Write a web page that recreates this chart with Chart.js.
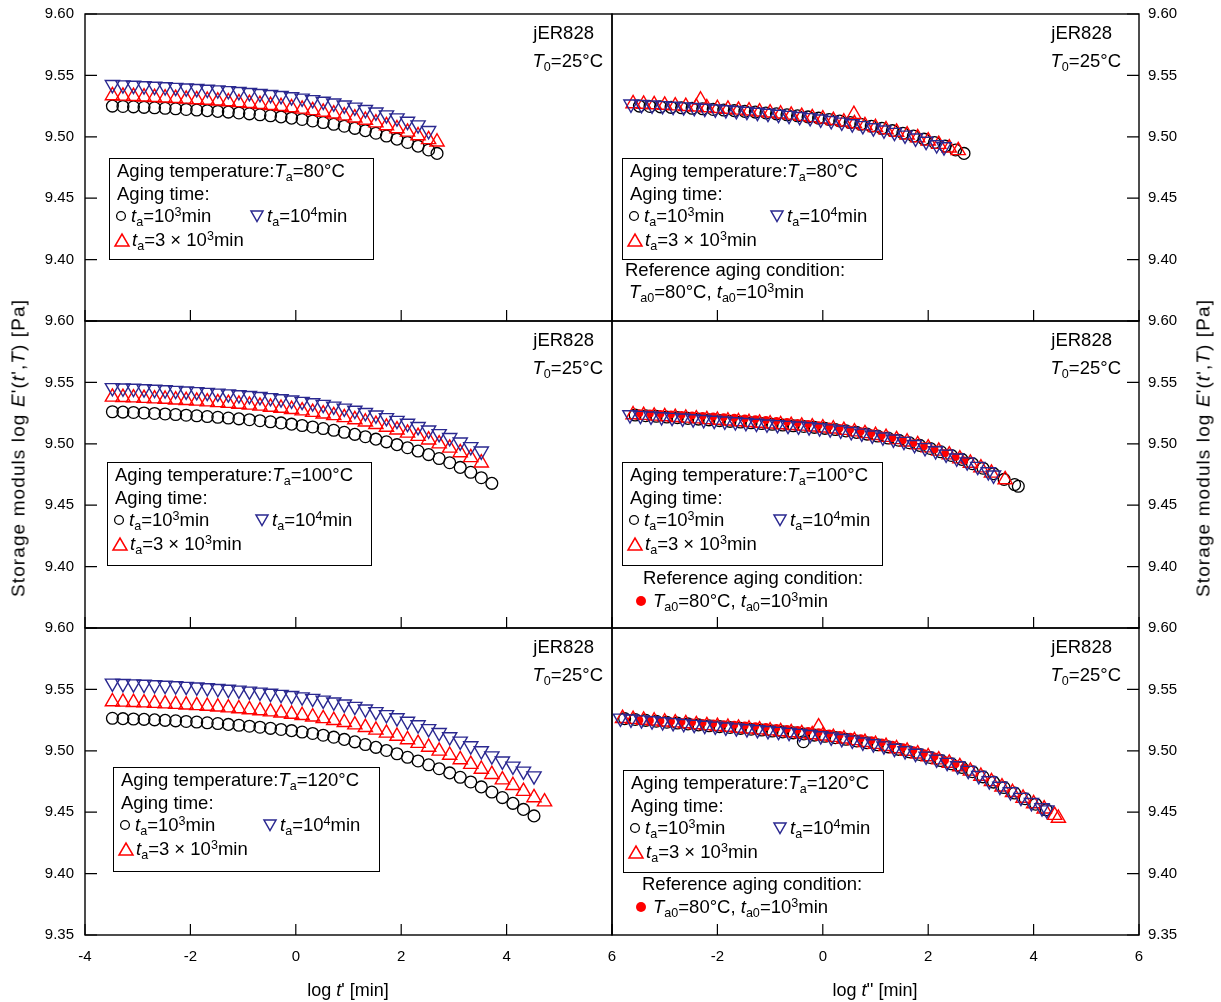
<!DOCTYPE html>
<html><head><meta charset="utf-8">
<script src="https://cdn.jsdelivr.net/npm/chart.js"></script>
<style>
html,body{margin:0;padding:0;background:#fff;}
#wrap{position:relative;width:1221px;height:1002px;overflow:hidden;font-family:'Liberation Sans',Arial,sans-serif;color:#000;}
canvas{position:absolute;left:0;}
.t{position:absolute;white-space:nowrap;line-height:1;font-size:18.5px;transform:translateY(-50%);}
.r{transform:translate(-100%,-50%);}
.box{position:absolute;border:1.3px solid #000;box-sizing:border-box;}
.ttl{position:absolute;white-space:nowrap;line-height:1;font-size:18px;}
sub,sup{font-size:0.68em;line-height:0;position:relative;vertical-align:baseline;}
sub{top:0.32em;} sup{top:-0.5em;}
svg.s{position:absolute;overflow:visible;}
</style>
</head><body>
<div id="wrap"></div>
<script>
// ---------- tick labels ----------
const X_TICKS = [-4, -2, 0, 2, 4, 6];
const Y_TICKS = [9.35, 9.40, 9.45, 9.50, 9.55, 9.60];

// ---------- reference curve (T_a0=80°C, t_a0=10^3 min) ----------
const REF_X = [-3.48,-3.28,-3.08,-2.88,-2.68,-2.48,-2.28,-2.08,-1.88,-1.68,-1.48,-1.28,-1.08,-0.88,-0.68,-0.48,-0.28,-0.08,0.12,0.32,0.52,0.72,0.92,1.12,1.32,1.52,1.72,1.92,2.12,2.32,2.52,2.68];
const REF_Y = [9.5250,9.5247,9.5244,9.5240,9.5236,9.5232,9.5228,9.5223,9.5218,9.5213,9.5207,9.5201,9.5194,9.5187,9.5179,9.5171,9.5162,9.5152,9.5141,9.5129,9.5116,9.5102,9.5086,9.5069,9.5050,9.5029,9.5006,9.4981,9.4954,9.4924,9.4893,9.4865];

// ---------- top-left (Ta=80°C), x = REF_X ----------
const TL_RED_Y  = [9.5335,9.5332,9.5329,9.5325,9.5321,9.5317,9.5313,9.5308,9.5303,9.5298,9.5292,9.5286,9.5279,9.5272,9.5264,9.5256,9.5247,9.5237,9.5226,9.5214,9.5201,9.5187,9.5171,9.5154,9.5135,9.5114,9.5091,9.5066,9.5039,9.5009,9.4978,9.4958];
const TL_BLUE_Y = [9.5425,9.5422,9.5419,9.5415,9.5411,9.5407,9.5402,9.5397,9.5392,9.5387,9.5381,9.5375,9.5368,9.5360,9.5352,9.5344,9.5335,9.5325,9.5314,9.5302,9.5289,9.5274,9.5258,9.5241,9.5222,9.5201,9.5178,9.5153,9.5126,9.5096,9.5050];

// ---------- top-right (shifted, Ta=80°C) ----------
const TR_BLUE_X = [-3.64,-3.44,-3.24,-3.04,-2.84,-2.64,-2.44,-2.24,-2.04,-1.84,-1.64,-1.44,-1.24,-1.04,-0.84,-0.64,-0.44,-0.24,-0.04,0.16,0.36,0.56,0.76,0.96,1.16,1.36,1.56,1.76,1.96,2.16,2.30];
const TR_BLUE_Y = [9.5266,9.5262,9.5258,9.5253,9.5248,9.5243,9.5238,9.5232,9.5226,9.5220,9.5213,9.5206,9.5199,9.5191,9.5183,9.5174,9.5165,9.5155,9.5144,9.5132,9.5119,9.5105,9.5090,9.5073,9.5055,9.5035,9.5013,9.4989,9.4963,9.4935,9.4918];
const TR_RED_X  = [-3.60,-3.40,-3.20,-3.00,-2.80,-2.60,-2.40,-2.32,-2.20,-2.00,-1.80,-1.60,-1.40,-1.20,-1.00,-0.80,-0.60,-0.40,-0.20,0.00,0.20,0.40,0.59,0.60,0.80,1.00,1.20,1.40,1.60,1.80,2.00,2.20,2.40,2.57];
const TR_RED_Y  = [9.5270,9.5266,9.5262,9.5258,9.5253,9.5248,9.5243,9.5300,9.5237,9.5231,9.5225,9.5218,9.5211,9.5203,9.5195,9.5186,9.5177,9.5167,9.5157,9.5146,9.5134,9.5121,9.5183,9.5107,9.5092,9.5076,9.5058,9.5038,9.5016,9.4993,9.4967,9.4939,9.4910,9.4888];

// ---------- middle-left (Ta=100°C) ----------
const ML_X = [-3.48,-3.28,-3.08,-2.88,-2.68,-2.48,-2.28,-2.08,-1.88,-1.68,-1.48,-1.28,-1.08,-0.88,-0.68,-0.48,-0.28,-0.08,0.12,0.32,0.52,0.72,0.92,1.12,1.32,1.52,1.72,1.92,2.12,2.32,2.52,2.72,2.92,3.12,3.32,3.52,3.72];
const ML_BLACK_Y = [9.5261,9.5258,9.5255,9.5251,9.5247,9.5243,9.5238,9.5233,9.5228,9.5222,9.5216,9.5210,9.5203,9.5196,9.5188,9.5179,9.5170,9.5160,9.5149,9.5137,9.5124,9.5110,9.5094,9.5077,9.5058,9.5038,9.5016,9.4993,9.4968,9.4941,9.4912,9.4880,9.4846,9.4808,9.4768,9.4724,9.4678];
const ML_RED_Y   = [9.5381,9.5378,9.5375,9.5371,9.5367,9.5363,9.5358,9.5353,9.5348,9.5342,9.5336,9.5330,9.5323,9.5316,9.5308,9.5299,9.5290,9.5280,9.5269,9.5257,9.5244,9.5230,9.5214,9.5197,9.5178,9.5158,9.5136,9.5113,9.5088,9.5061,9.5032,9.5000,9.4966,9.4928,9.4888,9.4845];
const ML_BLUE_Y  = [9.5457,9.5454,9.5451,9.5447,9.5443,9.5439,9.5434,9.5429,9.5424,9.5418,9.5412,9.5406,9.5399,9.5392,9.5384,9.5375,9.5366,9.5356,9.5345,9.5333,9.5320,9.5306,9.5290,9.5273,9.5254,9.5234,9.5212,9.5190,9.5166,9.5140,9.5112,9.5082,9.5050,9.5014,9.4976,9.4940];

// ---------- middle-right (shifted, Ta=100°C) ----------
const MR_BLACK_X = [-3.56,-3.36,-3.16,-2.96,-2.76,-2.56,-2.36,-2.16,-1.96,-1.76,-1.56,-1.36,-1.16,-0.96,-0.76,-0.56,-0.36,-0.16,0.04,0.24,0.44,0.64,0.84,1.04,1.24,1.44,1.64,1.84,2.04,2.24,2.44,2.64,2.84,3.04,3.24,3.44,3.64,3.71];
const MR_BLACK_Y = [9.5234,9.5229,9.5224,9.5218,9.5213,9.5207,9.5201,9.5195,9.5189,9.5183,9.5177,9.5171,9.5165,9.5159,9.5153,9.5147,9.5141,9.5134,9.5126,9.5116,9.5105,9.5093,9.5079,9.5063,9.5047,9.5029,9.5009,9.4987,9.4962,9.4935,9.4905,9.4873,9.4838,9.4801,9.4757,9.4710,9.4668,9.4654];
const MR_RED_X   = [-3.60,-3.40,-3.20,-3.00,-2.80,-2.60,-2.40,-2.20,-2.00,-1.80,-1.60,-1.40,-1.20,-1.00,-0.80,-0.60,-0.40,-0.20,0.00,0.20,0.40,0.60,0.80,1.00,1.20,1.40,1.60,1.80,2.00,2.20,2.40,2.60,2.80,3.00,3.20,3.46];
const MR_RED_Y   = [9.5237,9.5232,9.5226,9.5221,9.5215,9.5210,9.5204,9.5198,9.5192,9.5186,9.5180,9.5174,9.5168,9.5162,9.5156,9.5150,9.5145,9.5138,9.5130,9.5121,9.5110,9.5098,9.5084,9.5069,9.5053,9.5035,9.5015,9.4993,9.4968,9.4941,9.4911,9.4878,9.4843,9.4805,9.4762,9.4708];
const MR_BLUE_X  = [-3.66,-3.46,-3.26,-3.06,-2.86,-2.66,-2.46,-2.26,-2.06,-1.86,-1.66,-1.46,-1.26,-1.06,-0.86,-0.66,-0.46,-0.26,-0.06,0.14,0.34,0.54,0.74,0.94,1.14,1.34,1.54,1.74,1.94,2.14,2.34,2.54,2.74,2.94,3.14,3.24];
const MR_BLUE_Y  = [9.5236,9.5231,9.5225,9.5220,9.5214,9.5209,9.5203,9.5197,9.5191,9.5185,9.5179,9.5173,9.5167,9.5161,9.5155,9.5149,9.5144,9.5138,9.5130,9.5121,9.5111,9.5099,9.5086,9.5071,9.5055,9.5038,9.5019,9.4994,9.4968,9.4943,9.4915,9.4884,9.4852,9.4815,9.4772,9.4745];

// ---------- bottom-left (Ta=120°C) ----------
const BL_X = [-3.48,-3.28,-3.08,-2.88,-2.68,-2.48,-2.28,-2.08,-1.88,-1.68,-1.48,-1.28,-1.08,-0.88,-0.68,-0.48,-0.28,-0.08,0.12,0.32,0.52,0.72,0.92,1.12,1.32,1.52,1.72,1.92,2.12,2.32,2.52,2.72,2.92,3.12,3.32,3.52,3.72,3.92,4.12,4.32,4.52,4.72];
const BL_BLACK_Y = [9.5265,9.5262,9.5259,9.5256,9.5252,9.5248,9.5244,9.5239,9.5234,9.5228,9.5222,9.5215,9.5208,9.5200,9.5192,9.5183,9.5174,9.5164,9.5153,9.5141,9.5127,9.5111,9.5093,9.5073,9.5051,9.5028,9.5003,9.4976,9.4947,9.4917,9.4886,9.4854,9.4820,9.4784,9.4746,9.4706,9.4664,9.4619,9.4572,9.4523,9.4470];
const BL_RED_Y   = [9.5400,9.5397,9.5394,9.5391,9.5387,9.5383,9.5379,9.5374,9.5369,9.5363,9.5357,9.5350,9.5343,9.5335,9.5327,9.5318,9.5309,9.5299,9.5288,9.5276,9.5263,9.5248,9.5231,9.5212,9.5191,9.5169,9.5145,9.5119,9.5091,9.5061,9.5030,9.4998,9.4964,9.4928,9.4890,9.4850,9.4808,9.4764,9.4718,9.4670,9.4619,9.4585];
const BL_BLUE_Y  = [9.5550,9.5547,9.5544,9.5541,9.5537,9.5533,9.5529,9.5524,9.5519,9.5513,9.5507,9.5500,9.5493,9.5485,9.5477,9.5468,9.5459,9.5449,9.5438,9.5426,9.5412,9.5397,9.5380,9.5361,9.5340,9.5318,9.5294,9.5268,9.5240,9.5211,9.5180,9.5148,9.5114,9.5078,9.5040,9.5000,9.4958,9.4916,9.4874,9.4834,9.4795];

// ---------- bottom-right (shifted, Ta=120°C) ----------
const BR_BLACK_X = [-3.76,-3.56,-3.36,-3.16,-2.96,-2.76,-2.56,-2.36,-2.16,-1.96,-1.76,-1.56,-1.36,-1.16,-0.96,-0.76,-0.56,-0.37,-0.36,-0.16,0.04,0.24,0.44,0.64,0.84,1.04,1.24,1.44,1.64,1.84,2.04,2.24,2.44,2.64,2.84,3.04,3.24,3.44,3.64,3.84,4.04,4.24];
const BR_BLACK_Y = [9.5262,9.5255,9.5248,9.5241,9.5233,9.5226,9.5219,9.5211,9.5204,9.5197,9.5190,9.5183,9.5176,9.5169,9.5161,9.5154,9.5146,9.5074,9.5137,9.5128,9.5118,9.5107,9.5094,9.5080,9.5065,9.5049,9.5032,9.5012,9.4992,9.4970,9.4946,9.4921,9.4894,9.4865,9.4830,9.4788,9.4745,9.4701,9.4656,9.4610,9.4565,9.4520];
const BR_RED_X   = [-3.80,-3.60,-3.40,-3.20,-3.00,-2.80,-2.60,-2.40,-2.20,-2.00,-1.80,-1.60,-1.40,-1.20,-1.00,-0.80,-0.60,-0.40,-0.20,-0.08,0.00,0.20,0.40,0.60,0.80,1.00,1.20,1.40,1.60,1.80,2.00,2.20,2.40,2.60,2.80,3.00,3.20,3.40,3.60,3.80,4.00,4.20,4.40,4.47];
const BR_RED_Y   = [9.5264,9.5257,9.5250,9.5243,9.5235,9.5228,9.5221,9.5213,9.5206,9.5199,9.5192,9.5185,9.5178,9.5171,9.5163,9.5156,9.5148,9.5140,9.5131,9.5196,9.5121,9.5110,9.5097,9.5084,9.5069,9.5053,9.5036,9.5017,9.4997,9.4975,9.4952,9.4927,9.4900,9.4871,9.4835,9.4793,9.4750,9.4706,9.4661,9.4615,9.4570,9.4527,9.4475,9.4451];
const BR_BLUE_X  = [-3.84,-3.64,-3.44,-3.24,-3.04,-2.84,-2.64,-2.44,-2.24,-2.04,-1.84,-1.64,-1.44,-1.24,-1.04,-0.84,-0.64,-0.44,-0.24,-0.04,0.16,0.36,0.56,0.76,0.96,1.16,1.36,1.56,1.76,1.96,2.16,2.36,2.56,2.76,2.96,3.16,3.36,3.56,3.76,3.96,4.16,4.25];
const BR_BLUE_Y  = [9.5265,9.5258,9.5251,9.5244,9.5236,9.5229,9.5222,9.5214,9.5207,9.5200,9.5193,9.5186,9.5179,9.5172,9.5164,9.5157,9.5149,9.5141,9.5132,9.5122,9.5111,9.5099,9.5086,9.5071,9.5056,9.5039,9.5020,9.5000,9.4979,9.4956,9.4931,9.4905,9.4877,9.4840,9.4798,9.4755,9.4711,9.4666,9.4620,9.4578,9.4535,9.4518];

// ---------- layout / style ----------
const W = 1221, H = 1002, OFF = 40;
const COL_L = [85, 612], COL_R = [612, 1139];
const ROW_T = [14, 321, 628], ROW_B = [321, 628, 935];
const BLACK = '#000000', RED = '#ff0000', BLUE = '#2a2890';
const FONT = "'Liberation Sans', Arial, sans-serif";

const pts = (xs, ys) => ys.map((y, i) => ({x: xs[i], y}));
const base = {showLine: false, pointHoverRadius: 0};
const NONE = 'rgba(0,0,0,0)';
const circ = d => Object.assign({}, base, {data: d, pointStyle: 'circle', pointRadius: 5.9, borderColor: BLACK, pointBorderColor: BLACK, backgroundColor: NONE, pointBackgroundColor: NONE, pointBorderWidth: 1.3, borderWidth: 1.3});
const up = d => Object.assign({}, base, {data: d, pointStyle: 'triangle', pointRadius: 8.2, borderColor: RED, pointBorderColor: RED, backgroundColor: NONE, pointBackgroundColor: NONE, pointBorderWidth: 1.4, borderWidth: 1.4});
const down = d => Object.assign({}, base, {data: d, pointStyle: 'triangle', pointRotation: 180, pointRadius: 8.2, borderColor: BLUE, pointBorderColor: BLUE, backgroundColor: NONE, pointBackgroundColor: NONE, pointBorderWidth: 1.4, borderWidth: 1.4});
const dot = d => Object.assign({}, base, {data: d, pointStyle: 'circle', pointRadius: 3.9, borderColor: RED, pointBorderColor: RED, backgroundColor: RED, pointBackgroundColor: RED, pointBorderWidth: 0, borderWidth: 0});

const framePlugin = {
  id: 'frame',
  afterDraw(chart, args, opts) {
    const {ctx, chartArea: a} = chart;
    const xs = chart.scales.x, ys = chart.scales.y;
    ctx.save();
    ctx.strokeStyle = '#000';
    ctx.lineWidth = 1.4;
    ctx.strokeRect(a.left, a.top, a.right - a.left, a.bottom - a.top);
    ctx.lineWidth = 1.2;
    ctx.beginPath();
    ys.ticks.forEach(t => {
      const py = ys.getPixelForValue(t.value);
      if (opts.side === 'left') { ctx.moveTo(a.left, py); ctx.lineTo(a.left + 12, py); }
      else { ctx.moveTo(a.right, py); ctx.lineTo(a.right - 12, py); }
    });
    xs.ticks.forEach(t => {
      const px = xs.getPixelForValue(t.value);
      ctx.moveTo(px, a.bottom); ctx.lineTo(px, a.bottom - 11);
    });
    ctx.stroke();
    ctx.restore();
  }
};

// dataset index 0 is drawn on top
const panels = [
  {c: 0, r: 0, sets: [down(pts(REF_X, TL_BLUE_Y)), up(pts(REF_X, TL_RED_Y)), circ(pts(REF_X, REF_Y))]},
  {c: 1, r: 0, sets: [down(pts(TR_BLUE_X, TR_BLUE_Y)), up(pts(TR_RED_X, TR_RED_Y)), circ(pts(REF_X, REF_Y))]},
  {c: 0, r: 1, sets: [down(pts(ML_X, ML_BLUE_Y)), up(pts(ML_X, ML_RED_Y)), circ(pts(ML_X, ML_BLACK_Y))]},
  {c: 1, r: 1, sets: [down(pts(MR_BLUE_X, MR_BLUE_Y)), dot(pts(REF_X, REF_Y)), up(pts(MR_RED_X, MR_RED_Y)), circ(pts(MR_BLACK_X, MR_BLACK_Y))]},
  {c: 0, r: 2, sets: [down(pts(BL_X, BL_BLUE_Y)), up(pts(BL_X, BL_RED_Y)), circ(pts(BL_X, BL_BLACK_Y))]},
  {c: 1, r: 2, sets: [down(pts(BR_BLUE_X, BR_BLUE_Y)), dot(pts(REF_X, REF_Y)), up(pts(BR_RED_X, BR_RED_Y)), circ(pts(BR_BLACK_X, BR_BLACK_Y))]}
];

const wrap = document.getElementById('wrap');
const YW = 60, XH = 40;

panels.forEach(p => {
  const cv = document.createElement('canvas');
  const CH = H + OFF;
  cv.width = W; cv.height = CH;
  cv.style.width = W + 'px'; cv.style.height = CH + 'px';
  cv.style.top = (-OFF) + 'px';
  wrap.appendChild(cv);
  const side = p.c === 0 ? 'left' : 'right';
  const bottomRow = p.r === 2;
  const pad = {
    left: p.c === 0 ? COL_L[0] - YW : COL_L[1],
    right: p.c === 0 ? W - COL_R[0] : W - COL_R[1] - YW,
    top: ROW_T[p.r] + OFF,
    bottom: bottomRow ? H - ROW_B[p.r] - XH : H - ROW_B[p.r]
  };
  new Chart(cv, {
    type: 'scatter',
    data: {datasets: p.sets},
    options: {
      responsive: false, animation: false, events: [],
      layout: {padding: pad},
      plugins: {legend: {display: false}, tooltip: {enabled: false}, frame: {side}},
      scales: {
        x: {
          type: 'linear', position: 'bottom', min: -4, max: 6,
          afterBuildTicks: s => { s.ticks = X_TICKS.map(v => ({value: v})); },
          afterFit: s => { s.height = bottomRow ? XH : 0; },
          grid: {display: false, drawTicks: false}, border: {display: false},
          ticks: {
            padding: 13, color: '#000', maxRotation: 0, autoSkip: false,
            font: {family: FONT, size: 15},
            callback: v => (!bottomRow || (p.c === 1 && v === -4)) ? '' : String(v)
          }
        },
        y: {
          type: 'linear', position: side, min: 9.35, max: 9.60,
          afterBuildTicks: s => { s.ticks = Y_TICKS.map(v => ({value: v})); },
          afterFit: s => { s.width = YW; },
          grid: {display: false, drawTicks: false}, border: {display: false},
          ticks: {
            padding: side === 'left' ? 11 : 9, color: '#000',
            font: {family: FONT, size: 15},
            callback: v => (!bottomRow && Math.abs(v - 9.35) < 1e-6) ? '' : Number(v).toFixed(2)
          }
        }
      }
    },
    plugins: [framePlugin]
  });
});

// ---------- HTML text overlay ----------
function text(x, y, html, right, size) {
  const d = document.createElement('div');
  d.className = 't' + (right ? ' r' : '');
  d.style.left = x + 'px'; d.style.top = y + 'px';
  if (size) d.style.fontSize = size + 'px';
  d.innerHTML = html;
  wrap.appendChild(d);
}
function sym(cx, cy, kind) {
  const ns = 'http://www.w3.org/2000/svg';
  const s = document.createElementNS(ns, 'svg');
  s.setAttribute('class', 's');
  s.setAttribute('width', 16); s.setAttribute('height', 16);
  s.style.left = (cx - 8) + 'px'; s.style.top = (cy - 8) + 'px';
  let el;
  if (kind === 'o') { el = document.createElementNS(ns, 'circle'); el.setAttribute('cx', 8); el.setAttribute('cy', 8); el.setAttribute('r', 4.4); el.setAttribute('fill', 'none'); el.setAttribute('stroke', BLACK); el.setAttribute('stroke-width', 1.3); }
  if (kind === 'dot') { el = document.createElementNS(ns, 'circle'); el.setAttribute('cx', 8); el.setAttribute('cy', 8); el.setAttribute('r', 5); el.setAttribute('fill', RED); }
  if (kind === 'up') { el = document.createElementNS(ns, 'polygon'); el.setAttribute('points', '1,14 15,14 8,2'); el.setAttribute('fill', 'none'); el.setAttribute('stroke', RED); el.setAttribute('stroke-width', 1.5); }
  if (kind === 'down') { el = document.createElementNS(ns, 'polygon'); el.setAttribute('points', '2,3 14,3 8,13.5'); el.setAttribute('fill', 'none'); el.setAttribute('stroke', BLUE); el.setAttribute('stroke-width', 1.5); }
  s.appendChild(el);
  wrap.appendChild(s);
}
function legend(bx, by, w, h, temp, triOff) {
  const b = document.createElement('div');
  b.className = 'box';
  b.style.left = bx + 'px'; b.style.top = by + 'px'; b.style.width = w + 'px'; b.style.height = h + 'px';
  wrap.appendChild(b);
  text(bx + 8, by + 13, 'Aging temperature:<i>T</i><sub>a</sub>=' + temp + '°C');
  text(bx + 8, by + 36, 'Aging time:');
  sym(bx + 12, by + 58, 'o');
  text(bx + 22, by + 58, '<i>t</i><sub>a</sub>=10<sup>3</sup>min');
  sym(bx + triOff, by + 58, 'down');
  text(bx + triOff + 10, by + 58, '<i>t</i><sub>a</sub>=10<sup>4</sup>min');
  sym(bx + 13, by + 82, 'up');
  text(bx + 23, by + 82, '<i>t</i><sub>a</sub>=3 × 10<sup>3</sup>min');
}

legend(109, 158, 265, 102, 80, 148);
legend(622, 158, 261, 102, 80, 155);
legend(107, 462, 265, 104, 100, 155);
legend(622, 462, 261, 104, 100, 158);
legend(113, 767, 267, 105, 120, 157);
legend(623, 770, 261, 103, 120, 157);

text(625, 270, 'Reference aging condition:');
text(629, 292, '<i>T</i><sub>a0</sub>=80°C, <i>t</i><sub>a0</sub>=10<sup>3</sup>min');
text(643, 578, 'Reference aging condition:');
sym(641, 601, 'dot');
text(653, 601, '<i>T</i><sub>a0</sub>=80°C, <i>t</i><sub>a0</sub>=10<sup>3</sup>min');
text(642, 884, 'Reference aging condition:');
sym(641, 907, 'dot');
text(653, 907, '<i>T</i><sub>a0</sub>=80°C, <i>t</i><sub>a0</sub>=10<sup>3</sup>min');

ROW_T.forEach(t => {
  text(594, t + 19, 'jER828', true);
  text(603, t + 47, '<i>T</i><sub>0</sub>=25°C', true);
  text(1112, t + 19, 'jER828', true);
  text(1121, t + 47, '<i>T</i><sub>0</sub>=25°C', true);
});

function title(cx, cy, html, rot, size, ls) {
  const d = document.createElement('div');
  d.className = 'ttl';
  d.style.left = cx + 'px'; d.style.top = cy + 'px';
  if (size) d.style.fontSize = size + 'px';
  if (ls) d.style.letterSpacing = ls + 'px';
  d.style.transform = 'translate(-50%,-50%)' + (rot ? ' rotate(-90deg)' : '');
  d.innerHTML = html;
  wrap.appendChild(d);
}
title(348, 990, 'log <i>t</i>\' [min]');
title(875, 990, 'log <i>t</i>\'\' [min]');
const ytitle = 'Storage moduls log <i>E</i>\'(<i>t</i>\',<i>T</i>) [Pa]';
title(18, 448, ytitle, true, 19, 1.1);
title(1203, 448, ytitle, true, 19, 1.1);
</script>
</body></html>
